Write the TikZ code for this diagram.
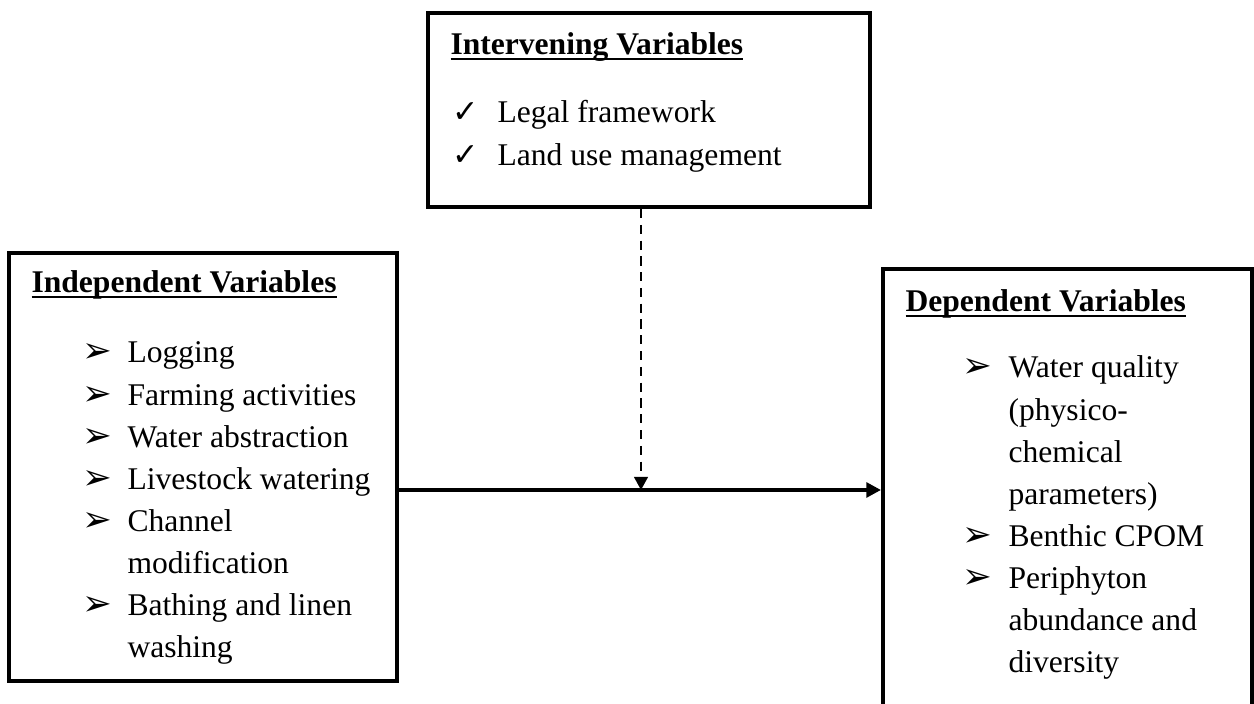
\documentclass[tikz,border=0pt]{standalone}
\usepackage{fontspec}
\setmainfont{Liberation Serif}
\newfontfamily\symfont{DejaVu Sans}
\usetikzlibrary{positioning, arrows.meta, fit}
\newcommand{\arrbullet}{{\symfont\fontsize{13.5}{13.5}\selectfont ➢}}
\newcommand{\chkbullet}{{\symfont\fontsize{12}{12}\selectfont ✓}}
\newsavebox{\ulbox}
\newcommand{\ulhead}[1]{\sbox{\ulbox}{#1}\rlap{\rule[-2pt]{\wd\ulbox}{0.9pt}}\usebox{\ulbox}}
\tikzset{
	varbox/.style={rectangle, draw=black, line width=1.5pt, inner sep=0pt},
	varhead/.style={font=\fontsize{12}{16}\selectfont\bfseries, inner sep=0pt, anchor=base west},
	varlist/.style={font=\fontsize{12}{16}\selectfont, inner sep=0pt, anchor=base west},
	mainarr/.style={-{Triangle[length=5.6pt, width=5.6pt]}, line width=1.5pt},
	dasharr/.style={-{Triangle[length=5pt, width=5.2pt]}, line width=0.9pt, dash pattern=on 3.5pt off 2.5pt}
}
\begin{document}
\begin{tikzpicture}[x=0.38pt, y=-0.38pt]
			\useasboundingbox (0,0) rectangle (1254,704);
			\clip (0,0) rectangle (1254,704);
			\node[varbox, fit={(428,13) (870,207)}] (interv) {};
			\node[varbox, fit={(9,253) (397,681)}] (indep) {};
			\node[varbox, fit={(883,269) (1252,730)}] (dep) {};
			\node[varhead] (intervhead) at (450,55) {\ulhead{Intervening Variables}};
			\node[varlist] (intervlist) at (452,123) {\begin{tabular}[t]{@{}p{17.1pt}@{}l@{}}
				\chkbullet & Legal framework\\
				\chkbullet & Land use management
			\end{tabular}};
			\node[varhead] (indephead) at (31,293) {\ulhead{Independent Variables}};
			\node[varlist] (indeplist) at (82,363) {\begin{tabular}[t]{@{}p{17.1pt}@{}l@{}}
				\arrbullet & Logging\\
				\arrbullet & Farming activities\\
				\arrbullet & Water abstraction\\
				\arrbullet & Livestock watering\\
				\arrbullet & Channel\\
				& modification\\
				\arrbullet & Bathing and linen\\
				& washing
			\end{tabular}};
			\node[varhead] (dephead) at (905,312) {\ulhead{Dependent Variables}};
			\node[varlist] (deplist) at (962,378) {\begin{tabular}[t]{@{}p{17.5pt}@{}l@{}}
				\arrbullet & Water quality\\
				& (physico-\\
				& chemical\\
				& parameters)\\
				\arrbullet & Benthic CPOM\\
				\arrbullet & Periphyton\\
				& abundance and\\
				& diversity
			\end{tabular}};
			\coordinate (join) at (641,490);
			\draw[mainarr] (indep.east |- join) -- (dep.west |- join);
			\draw[dasharr] (interv.south -| join) -- (join);
		\end{tikzpicture}
\end{document}
